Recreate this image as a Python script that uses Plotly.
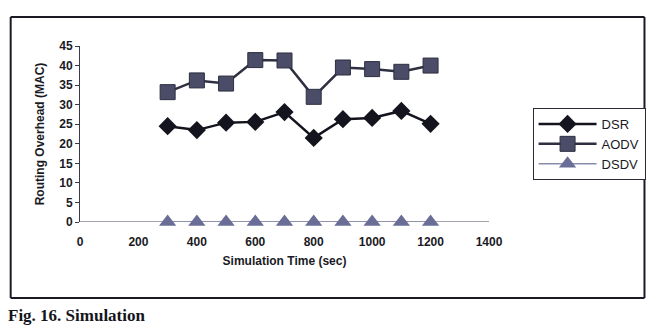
import plotly.graph_objects as go

# Data (corrected for scan skew)
sim_time = [300, 400, 500, 600, 700, 800, 900, 1000, 1100, 1200]
dsr = [24.5, 23.5, 25.4, 25.6, 28.1, 21.5, 26.3, 26.6, 28.4, 25.1]
aodv = [33.2, 36.2, 35.4, 41.4, 41.3, 32.0, 39.5, 39.1, 38.4, 40.0]
dsdv = [0, 0, 0, 0, 0, 0, 0, 0, 0, 0]

x_ticks = [0, 200, 400, 600, 800, 1000, 1200, 1400]
y_ticks = [0, 5, 10, 15, 20, 25, 30, 35, 40, 45]

# The page body adds an 8px offset; design in screen pixels and convert.
OX, OY = 8, 8
W, H = 658 - OX, 327 - OY
L, R = 80 - OX, 493 - OX          # plot area (figure px)
T, B = 46 - OY, 222 - OY
pw, ph = R - L, B - T

def px(sx):
    return (sx - OX - L) / pw

def py(sy):
    return (B - (sy - OY)) / ph

font_main = "Liberation Sans, Arial, sans-serif"
frame_col = "#1a1a24"

fig = go.Figure()
fig.add_trace(go.Scatter(
    x=sim_time, y=dsr, name="DSR", mode="lines+markers",
    line=dict(color="#14141f", width=2.5),
    marker=dict(symbol="diamond", size=14, color="#14141f"),
))
fig.add_trace(go.Scatter(
    x=sim_time, y=aodv, name="AODV", mode="lines+markers",
    line=dict(color="#2e2f40", width=2.5),
    marker=dict(symbol="square", size=15, color="#4a4c68",
                line=dict(color="#2e2f40", width=1)),
))
fig.add_trace(go.Scatter(
    x=sim_time, y=dsdv, name="DSDV", mode="lines+markers",
    line=dict(color="#8a8cab", width=1.5),
    marker=dict(symbol="triangle-up", size=15, color="#6a6e96"),
    cliponaxis=False,
))

# outer chart frame (screen px)
frame = [(10, 17, 650, 17), (650, 17, 650, 298), (10, 298, 650, 298), (10, 17, 10, 298)]
shapes = [dict(type="line", xref="paper", yref="paper",
               x0=px(a), y0=py(b), x1=px(c), y1=py(d),
               line=dict(color=frame_col, width=2), layer="below")
          for a, b, c, d in frame]

fig.update_layout(
    width=W, height=H,
    margin=dict(l=L, r=W - R, t=T, b=H - B, pad=0),
    paper_bgcolor="white", plot_bgcolor="white",
    font=dict(family=font_main, size=12, color="#1a1a24"),
    showlegend=True,
    legend=dict(
        x=px(537), y=py(108), xanchor="left", yanchor="top",
        bordercolor="#2a2a35", borderwidth=1, bgcolor="white",
        font=dict(size=13, color="#1a1a24"),
        itemwidth=58, tracegroupgap=3,
    ),
    xaxis=dict(
        range=[0, 1400], tickvals=x_ticks, ticktext=[f"<b>{v}</b>" for v in x_ticks],
        showgrid=False, zeroline=False, showline=False,
        ticks="", ticklabelstandoff=11,
        tickfont=dict(size=12, family=font_main),
        title=dict(text="<b>Simulation Time (sec)</b>", standoff=8,
                   font=dict(size=12, family=font_main)),
    ),
    yaxis=dict(
        range=[0, 45], tickvals=y_ticks, ticktext=[f"<b>{v}</b>" for v in y_ticks],
        showgrid=False, zeroline=False, showline=True,
        linecolor="#3a3a48", linewidth=1,
        ticks="outside", ticklen=4, tickcolor="#3a3a48",
        tickfont=dict(size=12, family=font_main),
        title=dict(text="<b>Routing Overhead (MAC)</b>", standoff=12,
                   font=dict(size=12, family=font_main)),
    ),
    shapes=shapes,
    annotations=[
        dict(text="<b>Fig. 16. Simulation</b>", xref="paper", yref="paper",
             x=px(5), y=py(304), xanchor="left", yanchor="top",
             showarrow=False,
             font=dict(family="Liberation Serif, Times New Roman, serif",
                       size=17, color="#15151c")),
    ],
)

# x-axis line across the plot at y = 0
fig.add_shape(type="line", xref="paper", yref="y", x0=0, x1=1, y0=0, y1=0,
              line=dict(color="#4a4c60", width=1.2), layer="below")

fig.write_html("out.html")
